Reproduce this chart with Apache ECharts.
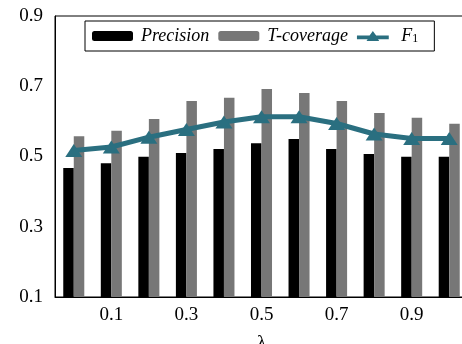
<!DOCTYPE html>
<html>
<head>
<meta charset="utf-8">
<script src="https://cdn.jsdelivr.net/npm/echarts@6/dist/echarts.min.js"></script>
<style>
  html, body { margin: 0; padding: 0; background: #fff; }
  #chart { width: 462px; height: 344px; }
</style>
</head>
<body>
<div id="chart"></div>
<script>
// lambda values on the x axis
var lambdas = ['0', '0.1', '0.2', '0.3', '0.4', '0.5', '0.6', '0.7', '0.8', '0.9', '1'];
// values
var precision = [0.467, 0.481, 0.499, 0.510, 0.521, 0.538, 0.550, 0.521, 0.507, 0.499, 0.499];
var tCoverage = [0.558, 0.573, 0.607, 0.658, 0.667, 0.692, 0.681, 0.658, 0.624, 0.610, 0.593];
var f1 = [0.517, 0.527, 0.555, 0.577, 0.598, 0.613, 0.613, 0.594, 0.564, 0.551, 0.551];

var serif = 'Liberation Serif';
var teal = '#2a6f80';
// legend icon for F1: thick line with a triangle on it
var f1Icon = 'path://M0,5L13.9,5L17.5,0L21.1,5L35,5L35,9L23.2,9L24.5,11L10.5,11L11.8,9L0,9Z';

var chart = echarts.init(document.getElementById('chart'));

var option = {
  animation: false,
  grid: {
    left: 55,
    top: 16,
    width: 413,
    height: 281,
    outerBoundsMode: 'none',
    containLabel: false,
    show: true,
    borderColor: '#000',
    borderWidth: 1
  },
  legend: {
    top: 21,
    left: 85,
    padding: [6, 16, 6, 7],
    borderColor: '#000',
    borderWidth: 1,
    itemWidth: 41,
    itemHeight: 10,
    itemGap: 9,
    data: [
      { name: 'Precision' },
      { name: 'T-coverage' },
      { name: 'F1', icon: f1Icon }
    ],
    formatter: function (name) {
      if (name === 'F1') return '{i|F}{s|1}';
      return '{i|' + name + '}';
    },
    textStyle: {
      fontFamily: serif,
      color: '#000',
      rich: {
        i: { fontFamily: serif, fontStyle: 'italic', fontSize: 18, color: '#000', padding: [0, 0, 0, 3] },
        s: { fontFamily: serif, fontSize: 12, color: '#000', verticalAlign: 'bottom', padding: [6, 0, 0, 0] }
      }
    }
  },
  xAxis: {
    type: 'category',
    data: lambdas,
    name: 'λ',
    nameLocation: 'middle',
    nameGap: 37,
    nameTextStyle: { fontFamily: serif, fontSize: 19, color: '#000' },
    axisLine: { lineStyle: { color: '#000', width: 1 } },
    axisTick: { show: false },
    axisLabel: {
      interval: function (i) { return i % 2 === 1; },
      fontFamily: serif,
      fontSize: 19,
      color: '#000',
      margin: 9
    }
  },
  yAxis: {
    type: 'value',
    min: 0.1,
    max: 0.9,
    interval: 0.2,
    axisLine: { show: true, lineStyle: { color: '#000', width: 1 } },
    axisTick: { show: false },
    splitLine: { show: false },
    axisLabel: {
      fontFamily: serif,
      fontSize: 19,
      color: '#000',
      margin: 12,
      formatter: function (v) { return v.toFixed(1); }
    }
  },
  series: [
    {
      name: 'Precision',
      type: 'bar',
      data: precision,
      barGap: '0%',
      barCategoryGap: '44%',
      itemStyle: { color: '#000' }
    },
    {
      name: 'T-coverage',
      type: 'bar',
      data: tCoverage,
      barGap: '0%',
      barCategoryGap: '44%',
      itemStyle: { color: '#777777' }
    },
    {
      name: 'F1',
      type: 'line',
      data: f1,
      symbol: 'triangle',
      symbolSize: [17, 13],
      lineStyle: { color: teal, width: 5 },
      itemStyle: { color: teal },
      z: 5
    }
  ]
};

chart.setOption(option);
</script>
</body>
</html>
